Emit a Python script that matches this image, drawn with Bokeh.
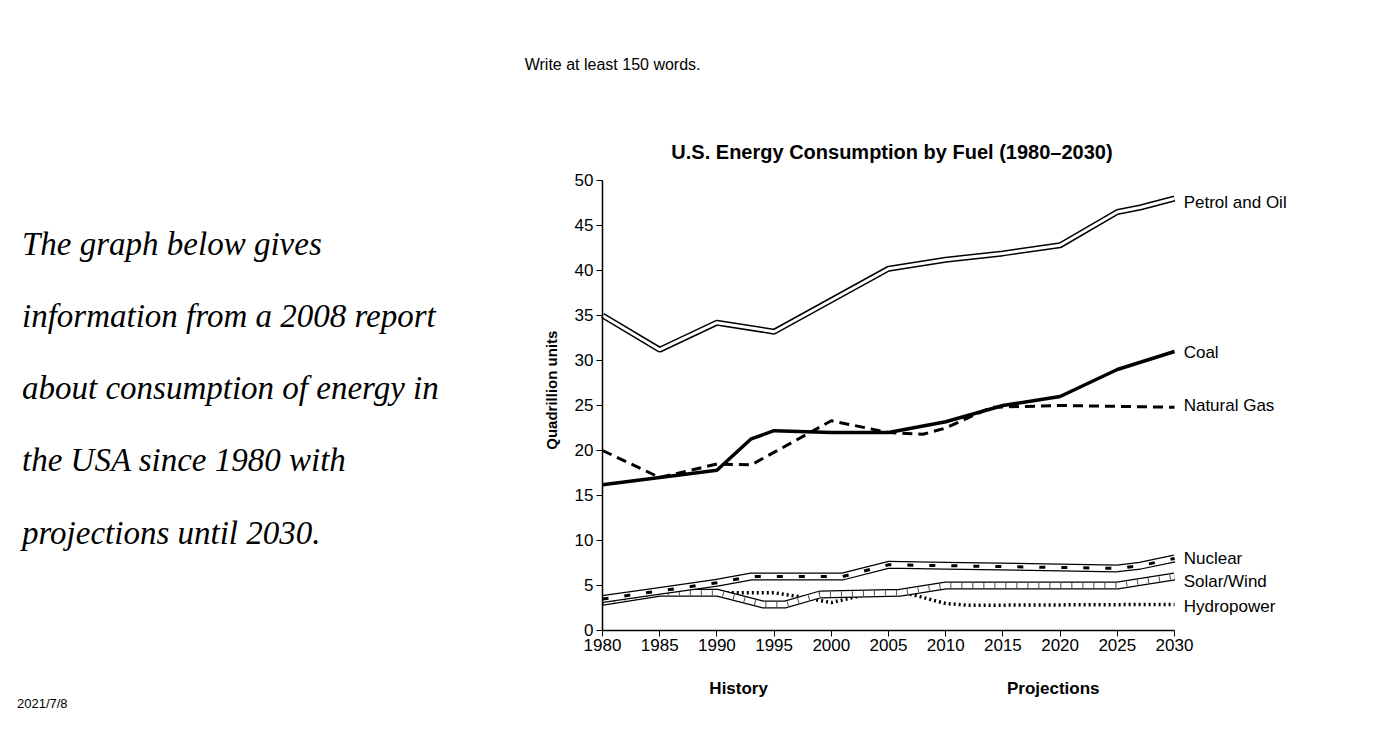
import math
from bokeh.plotting import figure
from bokeh.models import Label, Range1d, FixedTicker, Div
from bokeh.layouts import row
from bokeh.embed import file_html
from bokeh.resources import INLINE

petrol_x = [1980, 1985, 1990, 1995, 2000, 2005, 2010, 2015, 2020, 2025, 2027, 2030]
petrol_y = [35, 31.2, 34.2, 33.2, 36.7, 40.2, 41.2, 41.9, 42.8, 46.5, 47, 48]
coal_x = [1980, 1985, 1990, 1993, 1995, 2000, 2005, 2010, 2015, 2020, 2025, 2030]
coal_y = [16.2, 17, 17.8, 21.3, 22.2, 22, 22, 23.2, 25, 26, 29, 31]
gas_x = [1980, 1985, 1990, 1993, 2000, 2005, 2008, 2010, 2014, 2020, 2030]
gas_y = [20, 17, 18.5, 18.4, 23.3, 22, 21.8, 22.5, 24.8, 25, 24.8]
nuc_x = [1980, 1985, 1990, 1993, 2001, 2005, 2010, 2020, 2025, 2027, 2030]
nuc_y = [3.5, 4.4, 5.3, 6, 6, 7.3, 7.2, 7, 6.9, 7.2, 8]
sol_x = [1980, 1985, 1990, 1994, 1996, 1999, 2006, 2010, 2025, 2030]
sol_y = [3.2, 4.2, 4.2, 2.9, 2.9, 4, 4.2, 5, 5, 6]
hyd_x = [1980, 1985, 1990, 1995, 1997, 2000, 2003, 2005, 2007, 2010, 2012, 2030]
hyd_y = [3, 4, 4.2, 4.2, 3.8, 3.1, 4, 4.2, 4, 3, 2.8, 2.9]
xticks = list(range(1980, 2031, 5))
yticks = list(range(0, 51, 5))
body = ["The graph below gives", "information from a 2008 report", "about consumption of energy in",
        "the USA since 1980 with", "projections until 2030."]

DIV_W = 480
W, H = 1384 - DIV_W, 740
p = figure(width=W, height=H, output_backend="svg", toolbar_location=None,
           x_range=Range1d(1972.83, 2049.23), y_range=Range1d(-8.89, 70),
           min_border_left=30, min_border_right=0, min_border_top=0, min_border_bottom=30)
p.outline_line_color = None
p.grid.visible = False
p.xaxis.ticker = FixedTicker(ticks=xticks)
p.yaxis.ticker = FixedTicker(ticks=yticks)
p.xaxis.fixed_location = 0
p.yaxis.fixed_location = 1980
p.xaxis.bounds = (1980, 2030)
p.yaxis.bounds = (0, 50)
for ax in (p.xaxis[0], p.yaxis[0]):
    ax.axis_line_color = "black"
    ax.axis_line_width = 1.5
    ax.major_tick_line_color = "black"
    ax.minor_tick_line_color = None
    ax.major_label_text_font = "Liberation Sans"
    ax.major_label_text_font_size = "17px"
    ax.major_label_text_color = "black"
    ax.major_tick_in = 0
    ax.major_tick_out = 6
    ax.major_label_standoff = 3

p.line(petrol_x, petrol_y, line_color="black", line_width=6)
p.line(petrol_x, petrol_y, line_color="white", line_width=3)
p.line(coal_x, coal_y, line_color="black", line_width=3.5)
p.line(gas_x, gas_y, line_color="black", line_width=3, line_dash="10 6")
p.line(hyd_x, hyd_y, line_color="black", line_width=3.5, line_dash="2 3")
p.line(sol_x, sol_y, line_color="black", line_width=8)
p.line(sol_x, sol_y, line_color="white", line_width=5.5)
p.line(sol_x, sol_y, line_color="black", line_width=5, line_dash="1 10", line_alpha=0.7)
p.line(nuc_x, nuc_y, line_color="black", line_width=8)
p.line(nuc_x, nuc_y, line_color="white", line_width=5.5)
p.line(nuc_x, nuc_y, line_color="black", line_width=3, line_dash="6 16")

def lab(x, y, t, size="17px", style="normal", align="left", angle=0):
    p.add_layout(Label(x=x, y=y, text=t, text_font="Liberation Sans", text_font_size=size,
                       text_font_style=style, text_align=align, text_baseline="middle",
                       text_color="black", angle=angle))

names = [("Petrol and Oil", 47.6), ("Coal", 30.9), ("Natural Gas", 25), ("Nuclear", 8),
         ("Solar/Wind", 5.4), ("Hydropower", 2.7)]
for t, y in names:
    lab(2030.8, y, t)

lab(2005.3, 53.2, "U.S. Energy Consumption by Fuel (1980\u20132030)", size="20px", style="bold", align="center")
lab(1991.9, -6.4, "History", style="bold", align="center")
lab(2019.4, -6.4, "Projections", style="bold", align="center")
lab(1973.2, 62.9, "Write at least 150 words.", size="16px")
lab(1975.5, 26.7, "Quadrillion units", size="15px", style="bold", align="center", angle=math.pi / 2)

html = '<div style="position:relative;width:%dpx;height:%dpx;">' % (DIV_W, H)
for i, t in enumerate(body):
    top = 244 - 8 - 20 + i * 72.3
    html += ('<div style="position:absolute;left:17px;top:%dpx;white-space:nowrap;font-family:\'Liberation Serif\';'
             'font-style:italic;font-size:33px;color:black;">%s</div>' % (top, t))
html += ('<div style="position:absolute;left:12px;top:690px;font-family:\'Liberation Sans\';'
         'font-size:13px;color:black;">2021/7/8</div>')
html += '</div>'
d = Div(text=html, width=DIV_W, height=H)

open("out.html", "w").write(file_html(row(d, p), INLINE))
